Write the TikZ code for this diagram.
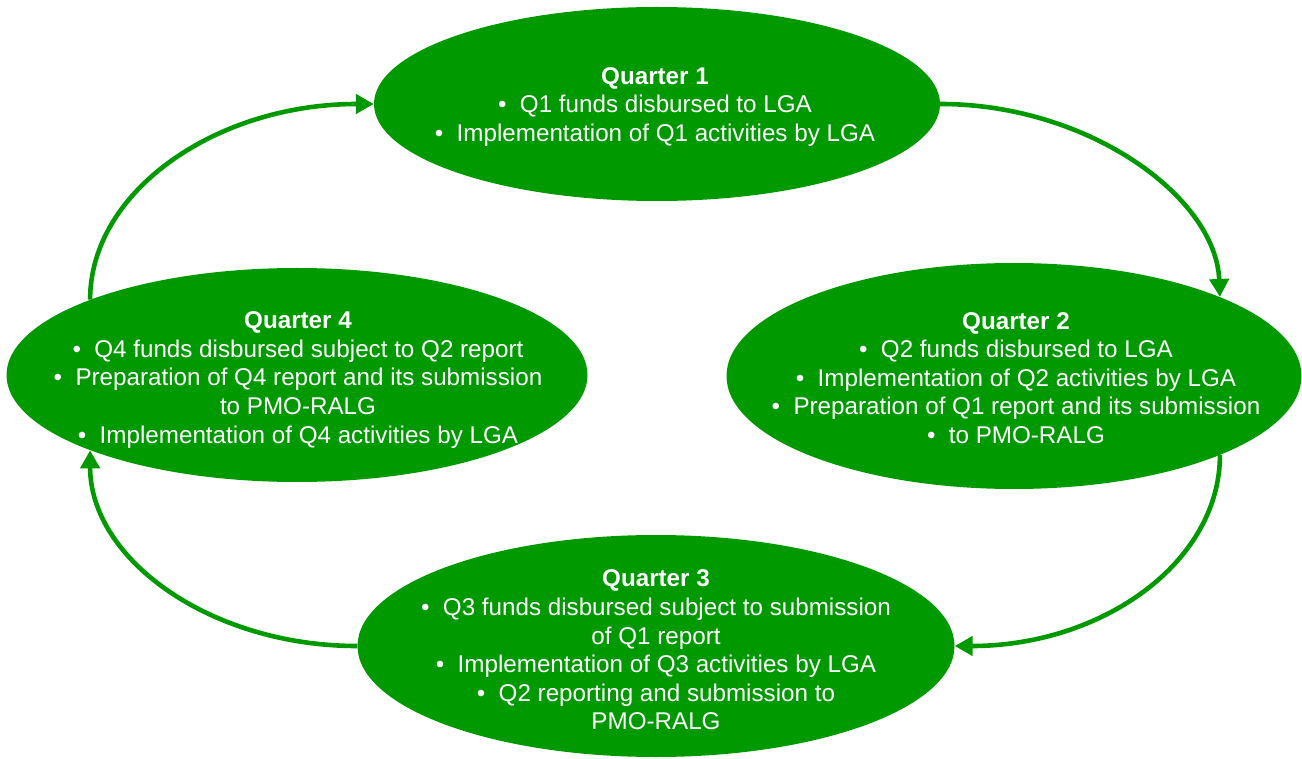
\documentclass[tikz,border=0pt]{standalone}
\usepackage{fontspec}
\setmainfont{Liberation Sans}
\usetikzlibrary{arrows.meta,shapes.geometric}
\definecolor{qgreen}{HTML}{009900}
\tikzset{
  quarter/.style={ellipse, fill=qgreen, draw=none, inner sep=0pt},
  qtext/.style={text=white, align=center, inner sep=0pt,
    font=\fontsize{24.2}{28.6}\selectfont},
  cycle/.style={draw=qgreen, line width=4.6pt,
    -{Triangle[length=18pt,width=19pt]}}
}
\newcommand{\itm}{\textbullet\hspace{0.55em}}
\begin{document}
\begin{tikzpicture}[x=1pt,y=-1pt]
  \useasboundingbox (0,0) rectangle (1302,759);

  % the four quarters
  \node[quarter, minimum width=566pt, minimum height=194pt] (q1) at (657,104) {};
  \node[quarter, minimum width=575pt, minimum height=226pt] (q2) at (1014,376) {};
  \node[quarter, minimum width=597pt, minimum height=222pt] (q3) at (656,646) {};
  \node[quarter, minimum width=581pt, minimum height=214pt] (q4) at (297,375) {};

  \node[qtext] (t1) at (655,107) {\textbf{Quarter 1}\\
    \itm Q1 funds disbursed to LGA\\
    \itm Implementation of Q1 activities by LGA};
  \node[qtext] (t2) at (1016,378) {\textbf{Quarter 2}\\
    \itm Q2 funds disbursed to LGA\\
    \itm Implementation of Q2 activities by LGA\\
    \itm Preparation of Q1 report and its submission\\
    \itm to PMO-RALG};
  \node[qtext] (t3) at (656,650) {\textbf{Quarter 3}\\
    \itm Q3 funds disbursed subject to submission\\
    of Q1 report\\
    \itm Implementation of Q3 activities by LGA\\
    \itm Q2 reporting and submission to\\
    PMO-RALG};
  \node[qtext] (t4) at (298,380) {\textbf{Quarter 4}\\
    \itm Q4 funds disbursed subject to Q2 report\\
    \itm Preparation of Q4 report and its submission\\
    to PMO-RALG\\
    \itm Implementation of Q4 activities by LGA};

  % the cycle Q1 -> Q2 -> Q3 -> Q4 -> Q1
  \draw[cycle] (q1.east) .. controls +(148,0) and +(-4,-100) .. (q2.21.5);
  \draw[cycle] (q2.339.5) .. controls +(0,107) and +(148,0) .. (q3.east);
  \draw[cycle] (q3.west) .. controls +(-147,0) and +(0,109) .. (q4.200.2);
  \draw[cycle] (q4.160.3) .. controls +(0,-109) and +(-157,0) .. (q1.west);
\end{tikzpicture}
\end{document}
